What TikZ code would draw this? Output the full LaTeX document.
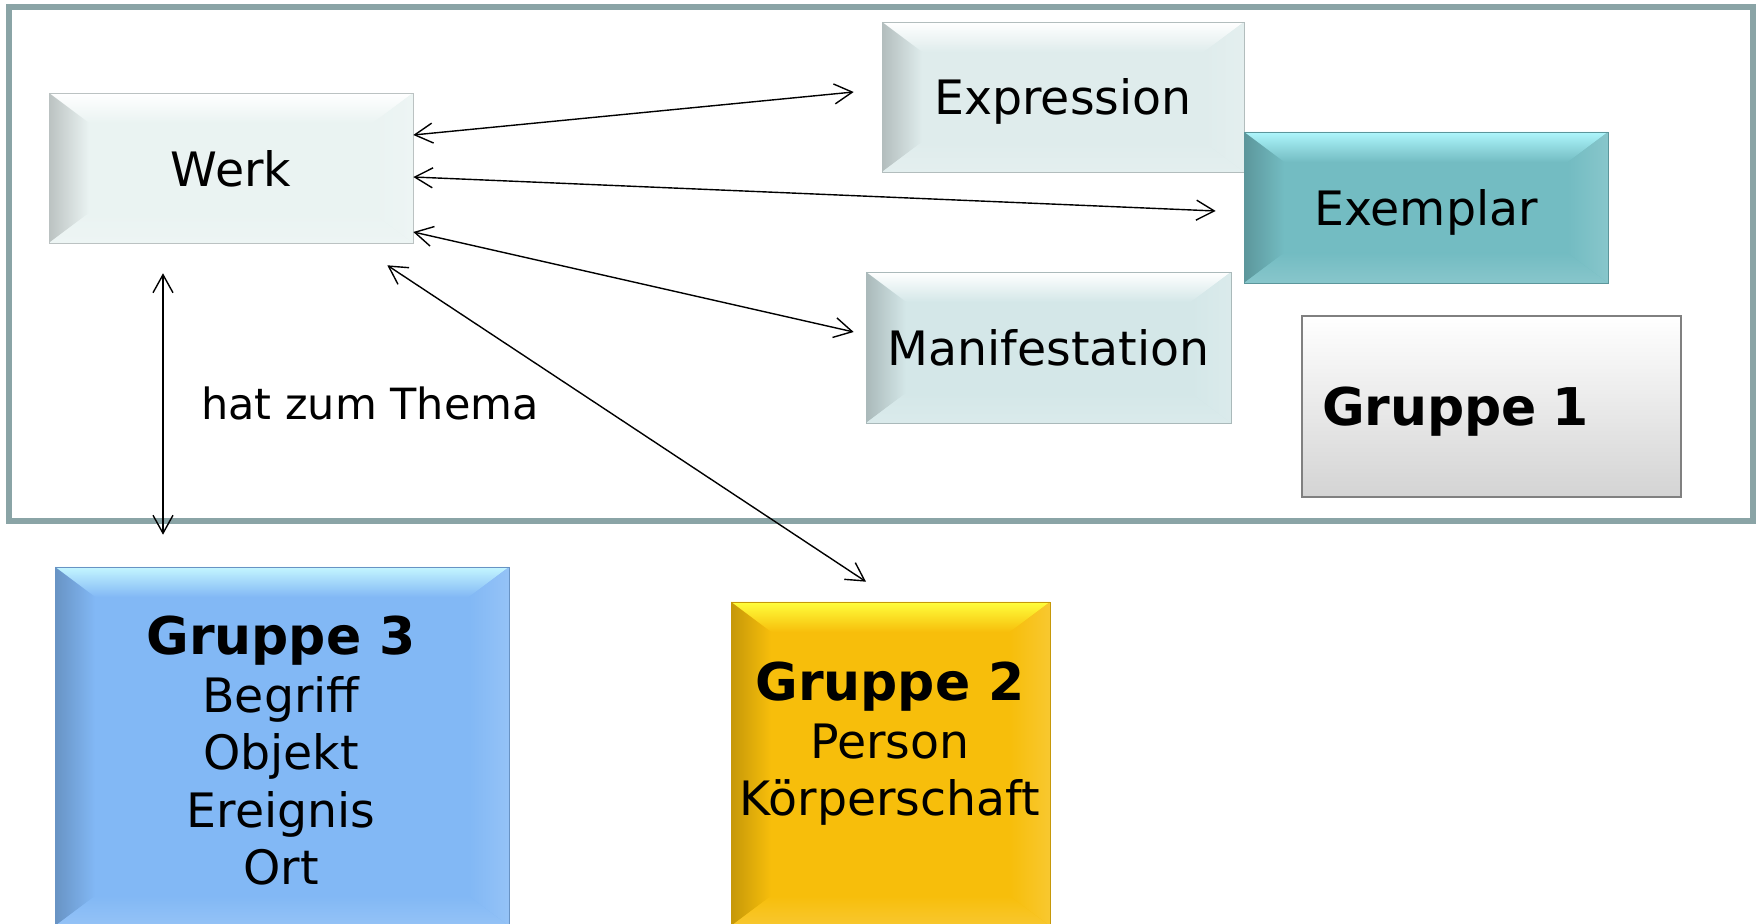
\documentclass[tikz,border=0pt]{standalone}
\usepackage{fontspec}
\setmainfont{DejaVu Sans}
\usetikzlibrary{arrows.meta,calc}

\definecolor{framegray}{HTML}{8AA4A6}
\definecolor{werkfill}{HTML}{EAF3F2}
\definecolor{exprfill}{HTML}{DFECEC}
\definecolor{manifill}{HTML}{D4E7E8}
\definecolor{exemfill}{HTML}{73BCC2}
\definecolor{exemtop}{HTML}{AEF6FC}
\definecolor{grpthree}{HTML}{82B8F5}
\definecolor{grpthreetop}{HTML}{C4F6FF}
\definecolor{grptwo}{HTML}{F7BE0B}
\definecolor{grptwotop}{HTML}{FFFF3C}

\newcommand{\bevx}{20pt}
\newcommand{\bevy}{15pt}
\newcommand{\grpfont}{\bfseries\fontsize{26}{28.75}\selectfont}

\tikzset{
  bevelbox/.style 2 args={fill=#1, draw=#1!80!black, line width=0.3pt, inner sep=0pt, text depth=0pt,
    path picture={
      \coordinate (bb sw) at (path picture bounding box.south west);
      \coordinate (bb ne) at (path picture bounding box.north east);
      \coordinate (bb nw) at (bb sw|-bb ne);
      \coordinate (bb se) at (bb ne|-bb sw);
      % top, left, bottom, right bevel
      \shade[top color=#2, bottom color=#1] (bb nw) -- (bb ne) -- ($(bb ne)+(-\bevx,-\bevy)$) -- ($(bb nw)+(\bevx,-\bevy)$) -- cycle;
      \shade[left color=#1!80!black, right color=#1] (bb nw) -- (bb sw) -- ($(bb sw)+(\bevx,\bevy)$) -- ($(bb nw)+(\bevx,-\bevy)$) -- cycle;
      \shade[top color=#1, bottom color=#1!85!white] (bb sw) -- (bb se) -- ($(bb se)+(-\bevx,\bevy)$) -- ($(bb sw)+(\bevx,\bevy)$) -- cycle;
      \shade[left color=#1, right color=#1!85!white] (bb ne) -- (bb se) -- ($(bb se)+(-\bevx,\bevy)$) -- ($(bb ne)+(-\bevx,-\bevy)$) -- cycle;
    }},
  grpbox/.style={draw=black!50, line width=0.6pt, top color=white, bottom color=black!17, text depth=0pt},
  rel/.style={{Straight Barb[length=9pt,width=10pt]}-{Straight Barb[length=9pt,width=10pt]}, line width=0.7pt}
}

\begin{document}
\begin{tikzpicture}[x=0.5pt,y=-0.5pt, every node/.style={font=\fontsize{23.7}{28.75}\selectfont}]
  \clip (0,0) rectangle (1757,924);
  \draw[framegray, line width=2.6pt] (9,7) rectangle (1753,521);

  \node[bevelbox={werkfill}{white}, minimum width=182pt, minimum height=75pt] (werk) at (231,168) {Werk};
  \node[bevelbox={exprfill}{white}, minimum width=181pt, minimum height=75pt] (expr) at (1063,97) {Expression};
  \node[bevelbox={exemfill}{exemtop}, minimum width=182pt, minimum height=75.5pt] (exem) at (1426,207.5) {Exemplar};
  \node[bevelbox={manifill}{white}, minimum width=182.5pt, minimum height=75.5pt] (mani) at (1048.5,347.5) {Manifestation};
  \node[grpbox, text width=169.5pt, inner xsep=10pt, minimum height=90.5pt, align=left] (g1) at (1491.5,406.5) {\grpfont Gruppe 1};

  \node[bevelbox={grpthree}{grpthreetop}, minimum width=227pt, minimum height=179.5pt] (g3) at (282,746.5) {};
  \node[bevelbox={grptwo}{grptwotop}, minimum width=159.5pt, minimum height=162pt] (g2) at (890.5,764) {};
  \node[align=center] (g3txt) at (281,751) {{\grpfont Gruppe 3}\\Begriff\\Objekt\\Ereignis\\Ort};
  \node[align=center] (g2txt) at (890,744) {{\grpfont Gruppe 2}\\Person\\Körperschaft};

  \node[font=\fontsize{21.5}{26}\selectfont] (thema) at (370,403) {hat zum Thema};

  \draw[rel] ($(werk.east)+(0,-33)$) -- ($(expr.west)+(-28,-5)$);
  \draw[rel] ($(werk.east)+(0,9)$) -- ($(exem.west)+(-28,3.5)$);
  \draw[rel] ($(werk.east)+(0,64)$) -- ($(mani.west)+(-12,-15.5)$);
  \draw[rel] ($(werk.south east)+(-26,22)$) -- ($(g2.north)+(-24.5,-20)$);
  \draw[rel] ($(werk.south)+(-68,30)$) -- ($(g3.north)+(-119,-32)$);
\end{tikzpicture}
\end{document}
